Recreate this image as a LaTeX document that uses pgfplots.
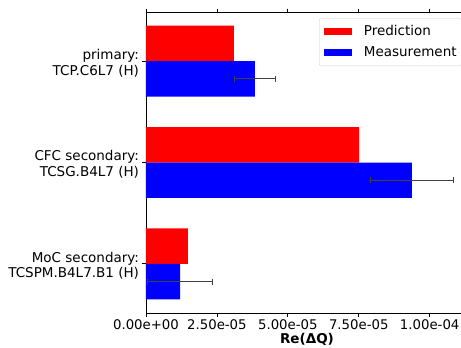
\documentclass[border=0pt]{standalone}
\usepackage{pgfplots}
\pgfplotsset{compat=1.18}
\usepackage{fontspec}
\setmainfont{DejaVu Sans}
\newcommand{\fsb}{\fontsize{13.5}{15.8}\selectfont}
\newcommand{\fss}{\fontsize{13.3}{15.8}\selectfont}
\begin{document}
\begin{tikzpicture}
\begin{axis}[
  name=ax,
  scale only axis,
  width=322pt, height=301pt,
  xbar, bar width=0.35,
  xmin=0, xmax=1.135e-4,
  ymin=-0.485, ymax=2.485,
  scaled x ticks=false,
  xtick={0,2.5e-5,5e-5,7.5e-5,1e-4},
  xticklabels={0.00e+00,2.50e-05,5.00e-05,7.50e-05,1.00e-04},
  ytick={0,1,2},
  yticklabels={{MoC secondary:\\TCSPM.B4L7.B1 (H)},{CFC secondary:\\TCSG.B4L7 (H)},{primary:\\TCP.C6L7 (H)}},
  yticklabel style={align=right, font=\fsb, yshift=-2pt},
  xticklabel style={font=\fss},
  tick align=outside,
  major tick length=3.5pt,
  tick style={black, line width=0.8pt},
  axis line style={line width=0.8pt},
  xlabel={\textbf{Re(ΔQ)}},
  xlabel style={font=\fsb, yshift=4pt},
  legend style={at={(1,1)}, anchor=north east, xshift=-6.5pt, yshift=-6.3pt,
    draw=black!18, rounded corners=2pt, font=\fsb,
    inner xsep=4.7pt, inner ysep=6.5pt, row sep=8.3pt, column sep=0pt,
    nodes={inner sep=0pt, text height=10pt, text depth=3pt}},
  legend image code/.code={\fill[#1, sharp corners] (0pt,-3.5pt) rectangle (28pt,3.5pt); \path (40pt,0pt);},
  legend cell align=left,
]
\addplot[fill=red, draw=none, bar shift=0.175] coordinates {
  (1.48e-5,0) (7.51e-5,1) (3.10e-5,2)
};
\addplot[fill=blue, draw=none, bar shift=-0.175,
  error bars/.cd, x dir=both, x explicit,
  error bar style={line width=0.8pt, black!75},
  error mark options={rotate=90, mark size=3pt, line width=0.8pt, black!75}]
  coordinates {
  (1.20e-5,0) +- (1.14e-5,0)
  (9.37e-5,1) +- (1.47e-5,0)
  (3.84e-5,2) +- (0.71e-5,0)
};
\legend{Prediction, Measurement}
\end{axis}
\pgfresetboundingbox
\path[use as bounding box] ([xshift=-146pt,yshift=-34pt]ax.south west) rectangle ([xshift=-7pt,yshift=12pt]ax.north east);
\end{tikzpicture}
\end{document}
